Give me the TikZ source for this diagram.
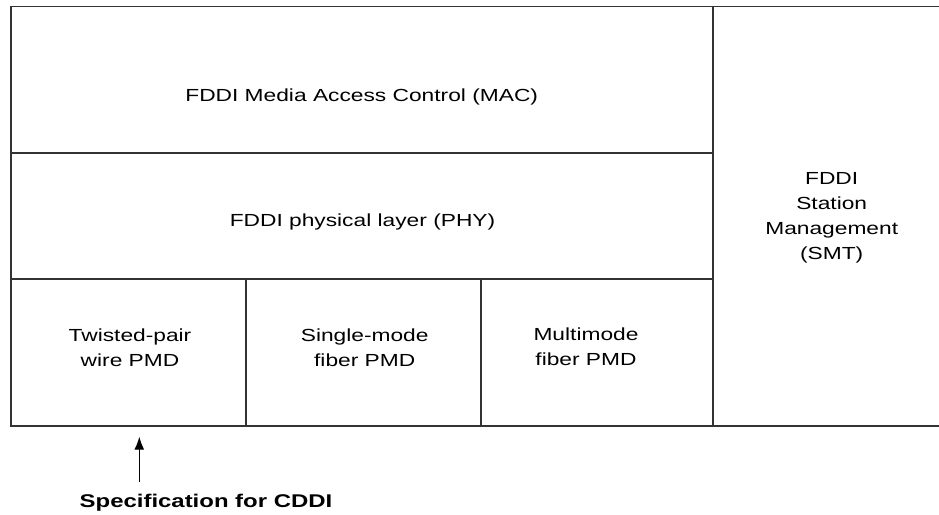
\documentclass[tikz,border=0pt]{standalone}
\usepackage{fontspec}
\setmainfont{Liberation Sans}[FakeStretch=1.3]
\usepackage{tikz}
\usetikzlibrary{arrows.meta}

\tikzset{
    lbl/.style={align=center, inner sep=0pt, font=\fontsize{17.5}{25}\selectfont},
    frame/.style={draw=black!80, line width=1.2pt}
}

\begin{document}
\begin{tikzpicture}[x=1pt, y=-1pt]
    \useasboundingbox (0,0) rectangle (939,514);

    % layer boxes
    \draw [frame] (11,6.5) rectangle (713,426);
    \draw [frame] (713,6.5) -- (939,6.5);
    \draw [frame] (713,426) -- (939,426);
    \draw [frame] (11,153) -- (713,153);
    \draw [frame] (11,279) -- (713,279);
    \draw [frame] (246,279) -- (246,426);
    \draw [frame] (481,279) -- (481,426);

    \node (MAC) [lbl, anchor=base] at (361.7,101.7) {FDDI Media Access Control (MAC)};
    \node (PHY) [lbl, anchor=base] at (362.5,226.7) {FDDI physical layer (PHY)};
    \node (TP) [lbl] at (130,347.8) {Twisted-pair\\wire PMD};
    \node (SM) [lbl] at (364.7,347.8) {Single-mode\\fiber PMD};
    \node (MM) [lbl] at (586,347.2) {Multimode\\fiber PMD};
    \node (SMT) [lbl] at (831.7,218.1) {FDDI\\Station\\Management\\(SMT)};

    \node (SPEC) [font=\fontsize{18.4}{22}\selectfont\bfseries, anchor=base] at (206,507) {Specification for CDDI};
    \coordinate (tip) at (139.3,436.7);
    \draw [-{Latex[length=13pt,width=10pt]}, line width=1.2pt]
        ([yshift=8.6pt]tip |- SPEC.north) -- (tip);
\end{tikzpicture}
\end{document}
